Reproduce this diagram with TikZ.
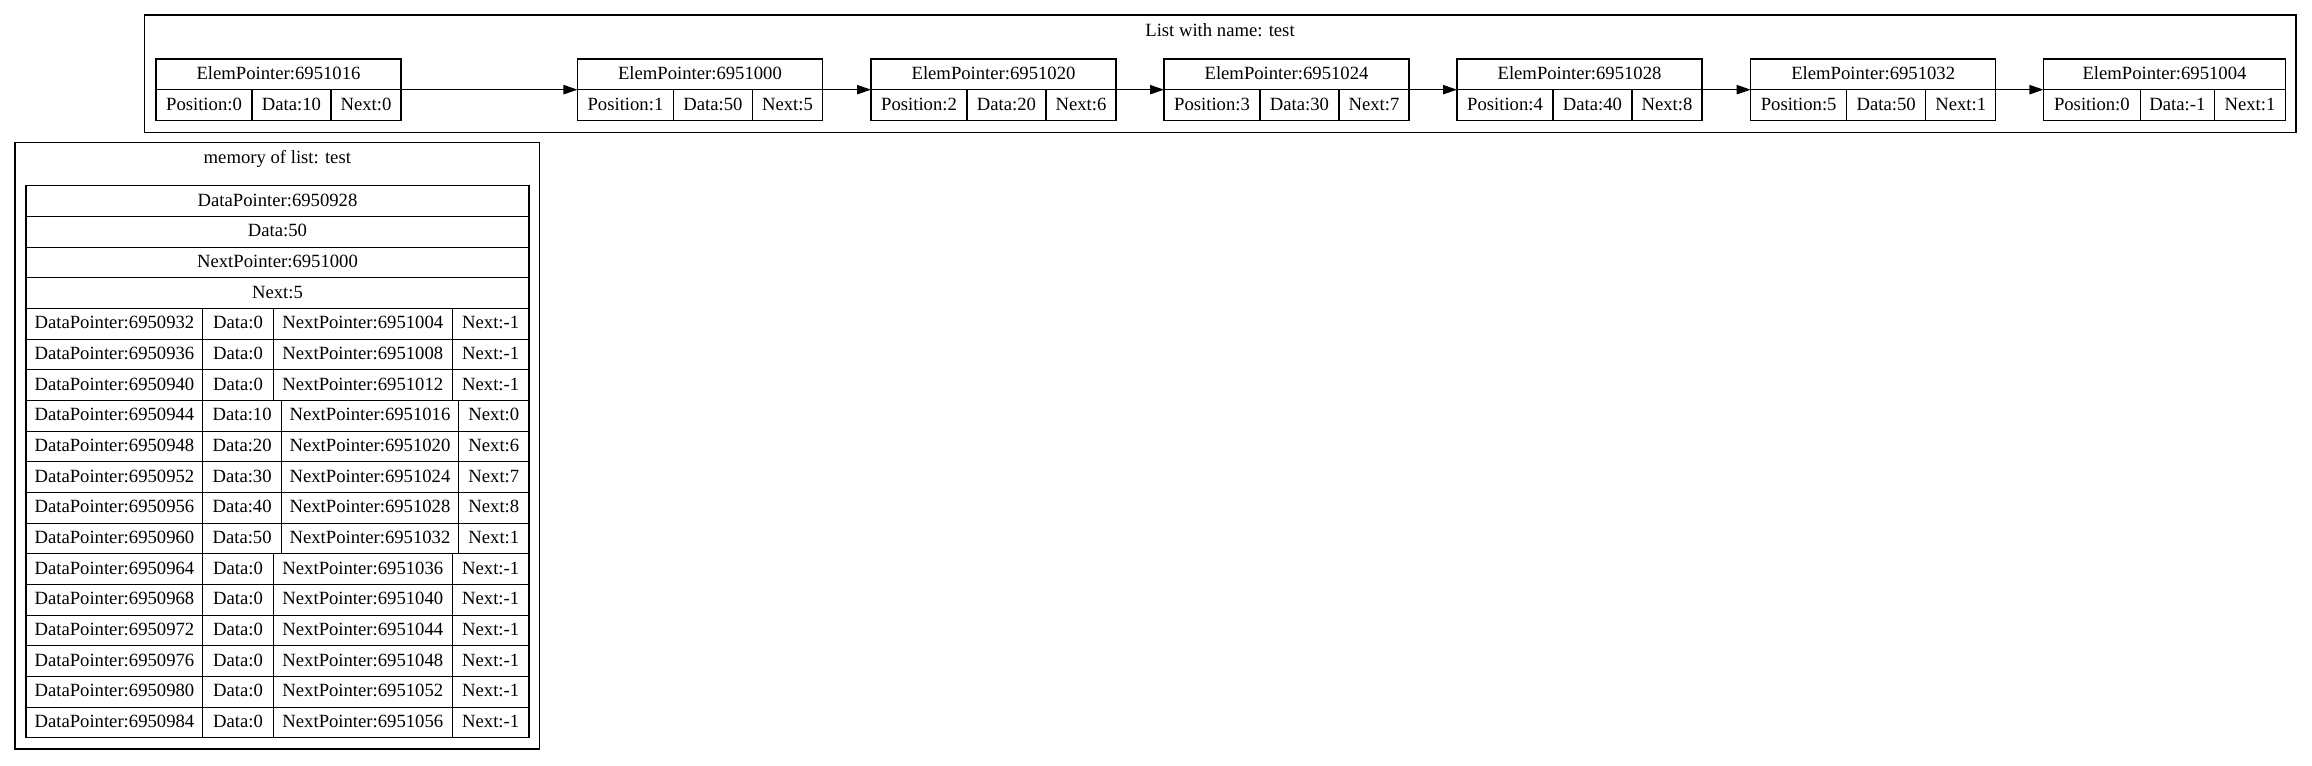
\documentclass[tikz,border=0pt]{standalone}
\usepackage{fontspec}
\setmainfont{Liberation Serif}
\usetikzlibrary{positioning, arrows.meta}

\begin{document}
\begin{tikzpicture}[x=1pt, y=-1pt, line width=0.8pt,
	cellbox/.style = {draw, rectangle, inner sep=0pt, outer sep=0pt, minimum height=23pt, text height=9.6pt, text depth=2pt, font=\fontsize{14}{16}\selectfont},
	head/.style = {cellbox, minimum width=183.75pt, anchor=north west},
	poscell/.style = {cellbox, minimum width=72pt},
	datcell/.style = {cellbox, minimum width=59.25pt},
	nextcell/.style = {cellbox, minimum width=52.5pt},
	dpcol/.style = {cellbox, minimum width=132.6pt},
	dcol/.style = {cellbox, minimum width=52.9pt},
	npcol/.style = {cellbox, minimum width=134.25pt},
	ncol/.style = {cellbox, minimum width=57.5pt},
	dcolb/.style = {cellbox, minimum width=58.95pt},
	npcolb/.style = {cellbox, minimum width=132.9pt},
	ncolb/.style = {cellbox, minimum width=52.8pt},
	row/.style = {cellbox, minimum width=377.25pt},
	cluster/.style = {draw},
	title/.style = {anchor=base, inner sep=0pt, font=\fontsize{14}{16}\selectfont},
	link/.style = {-{Triangle[length=10.5pt, width=7pt]}}]
	\useasboundingbox (0,0) rectangle (1734,573.75);

	% list of elements
	\draw[cluster] (108.4,11.25) rectangle (1722,99.5);
	\node[title] (lt) at (915,27) {List with name: test};

	\node[head] (e1) at (117,44.25) {ElemPointer:6951016};
	\node[poscell] (p1) [below right=0pt and 0pt of e1.south west] {Position:0};
	\node[datcell] (d1) [right=0pt of p1] {Data:10};
	\node[nextcell] (n1) [right=0pt of d1] {Next:0};

	\node[head] (e2) at (433.1,44.25) {ElemPointer:6951000};
	\node[poscell] (p2) [below right=0pt and 0pt of e2.south west] {Position:1};
	\node[datcell] (d2) [right=0pt of p2] {Data:50};
	\node[nextcell] (n2) [right=0pt of d2] {Next:5};

	\node[head] (e3) at (653.25,44.25) {ElemPointer:6951020};
	\node[poscell] (p3) [below right=0pt and 0pt of e3.south west] {Position:2};
	\node[datcell] (d3) [right=0pt of p3] {Data:20};
	\node[nextcell] (n3) [right=0pt of d3] {Next:6};

	\node[head] (e4) at (873,44.25) {ElemPointer:6951024};
	\node[poscell] (p4) [below right=0pt and 0pt of e4.south west] {Position:3};
	\node[datcell] (d4) [right=0pt of p4] {Data:30};
	\node[nextcell] (n4) [right=0pt of d4] {Next:7};

	\node[head] (e5) at (1092.75,44.25) {ElemPointer:6951028};
	\node[poscell] (p5) [below right=0pt and 0pt of e5.south west] {Position:4};
	\node[datcell] (d5) [right=0pt of p5] {Data:40};
	\node[nextcell] (n5) [right=0pt of d5] {Next:8};

	\node[head] (e6) at (1313,44.25) {ElemPointer:6951032};
	\node[poscell] (p6) [below right=0pt and 0pt of e6.south west] {Position:5};
	\node[datcell] (d6) [right=0pt of p6] {Data:50};
	\node[nextcell] (n6) [right=0pt of d6] {Next:1};

	\node[head, minimum width=181.5pt] (e7) at (1532.6,44.25) {ElemPointer:6951004};
	\node[poscell, minimum width=72.6pt] (p7) [below right=0pt and 0pt of e7.south west] {Position:0};
	\node[datcell, minimum width=55.6pt] (d7) [right=0pt of p7] {Data:-1};
	\node[nextcell, minimum width=53.3pt] (n7) [right=0pt of d7] {Next:1};

	\draw[link] (e1.south east) -- (e2.south west);
	\draw[link] (e2.south east) -- (e3.south west);
	\draw[link] (e3.south east) -- (e4.south west);
	\draw[link] (e4.south east) -- (e5.south west);
	\draw[link] (e5.south east) -- (e6.south west);
	\draw[link] (e6.south east) -- (e7.south west);

	% memory table
	\draw[cluster] (11.25,106.7) rectangle (404.6,561.75);
	\node[title] (mt) at (208,122.5) {memory of list: test};

	\node[row, anchor=north west] (m1) at (19.5,139.3) {DataPointer:6950928};
	\node[row] (m2) [below=0pt of m1] {Data:50};
	\node[row] (m3) [below=0pt of m2] {NextPointer:6951000};
	\node[row] (m4) [below=0pt of m3] {Next:5};

	\node[dpcol] (m5a) [below right=0pt and 0pt of m4.south west] {DataPointer:6950932};
	\node[dcol] (m5b) [right=0pt of m5a] {Data:0};
	\node[npcol] (m5c) [right=0pt of m5b] {NextPointer:6951004};
	\node[ncol] (m5d) [right=0pt of m5c] {Next:-1};

	\node[dpcol] (m6a) [below right=0pt and 0pt of m5a.south west] {DataPointer:6950936};
	\node[dcol] (m6b) [right=0pt of m6a] {Data:0};
	\node[npcol] (m6c) [right=0pt of m6b] {NextPointer:6951008};
	\node[ncol] (m6d) [right=0pt of m6c] {Next:-1};

	\node[dpcol] (m7a) [below right=0pt and 0pt of m6a.south west] {DataPointer:6950940};
	\node[dcol] (m7b) [right=0pt of m7a] {Data:0};
	\node[npcol] (m7c) [right=0pt of m7b] {NextPointer:6951012};
	\node[ncol] (m7d) [right=0pt of m7c] {Next:-1};

	\node[dpcol] (m8a) [below right=0pt and 0pt of m7a.south west] {DataPointer:6950944};
	\node[dcolb] (m8b) [right=0pt of m8a] {Data:10};
	\node[npcolb] (m8c) [right=0pt of m8b] {NextPointer:6951016};
	\node[ncolb] (m8d) [right=0pt of m8c] {Next:0};

	\node[dpcol] (m9a) [below right=0pt and 0pt of m8a.south west] {DataPointer:6950948};
	\node[dcolb] (m9b) [right=0pt of m9a] {Data:20};
	\node[npcolb] (m9c) [right=0pt of m9b] {NextPointer:6951020};
	\node[ncolb] (m9d) [right=0pt of m9c] {Next:6};

	\node[dpcol] (m10a) [below right=0pt and 0pt of m9a.south west] {DataPointer:6950952};
	\node[dcolb] (m10b) [right=0pt of m10a] {Data:30};
	\node[npcolb] (m10c) [right=0pt of m10b] {NextPointer:6951024};
	\node[ncolb] (m10d) [right=0pt of m10c] {Next:7};

	\node[dpcol] (m11a) [below right=0pt and 0pt of m10a.south west] {DataPointer:6950956};
	\node[dcolb] (m11b) [right=0pt of m11a] {Data:40};
	\node[npcolb] (m11c) [right=0pt of m11b] {NextPointer:6951028};
	\node[ncolb] (m11d) [right=0pt of m11c] {Next:8};

	\node[dpcol] (m12a) [below right=0pt and 0pt of m11a.south west] {DataPointer:6950960};
	\node[dcolb] (m12b) [right=0pt of m12a] {Data:50};
	\node[npcolb] (m12c) [right=0pt of m12b] {NextPointer:6951032};
	\node[ncolb] (m12d) [right=0pt of m12c] {Next:1};

	\node[dpcol] (m13a) [below right=0pt and 0pt of m12a.south west] {DataPointer:6950964};
	\node[dcol] (m13b) [right=0pt of m13a] {Data:0};
	\node[npcol] (m13c) [right=0pt of m13b] {NextPointer:6951036};
	\node[ncol] (m13d) [right=0pt of m13c] {Next:-1};

	\node[dpcol] (m14a) [below right=0pt and 0pt of m13a.south west] {DataPointer:6950968};
	\node[dcol] (m14b) [right=0pt of m14a] {Data:0};
	\node[npcol] (m14c) [right=0pt of m14b] {NextPointer:6951040};
	\node[ncol] (m14d) [right=0pt of m14c] {Next:-1};

	\node[dpcol] (m15a) [below right=0pt and 0pt of m14a.south west] {DataPointer:6950972};
	\node[dcol] (m15b) [right=0pt of m15a] {Data:0};
	\node[npcol] (m15c) [right=0pt of m15b] {NextPointer:6951044};
	\node[ncol] (m15d) [right=0pt of m15c] {Next:-1};

	\node[dpcol] (m16a) [below right=0pt and 0pt of m15a.south west] {DataPointer:6950976};
	\node[dcol] (m16b) [right=0pt of m16a] {Data:0};
	\node[npcol] (m16c) [right=0pt of m16b] {NextPointer:6951048};
	\node[ncol] (m16d) [right=0pt of m16c] {Next:-1};

	\node[dpcol] (m17a) [below right=0pt and 0pt of m16a.south west] {DataPointer:6950980};
	\node[dcol] (m17b) [right=0pt of m17a] {Data:0};
	\node[npcol] (m17c) [right=0pt of m17b] {NextPointer:6951052};
	\node[ncol] (m17d) [right=0pt of m17c] {Next:-1};

	\node[dpcol] (m18a) [below right=0pt and 0pt of m17a.south west] {DataPointer:6950984};
	\node[dcol] (m18b) [right=0pt of m18a] {Data:0};
	\node[npcol] (m18c) [right=0pt of m18b] {NextPointer:6951056};
	\node[ncol] (m18d) [right=0pt of m18c] {Next:-1};
\end{tikzpicture}
\end{document}
